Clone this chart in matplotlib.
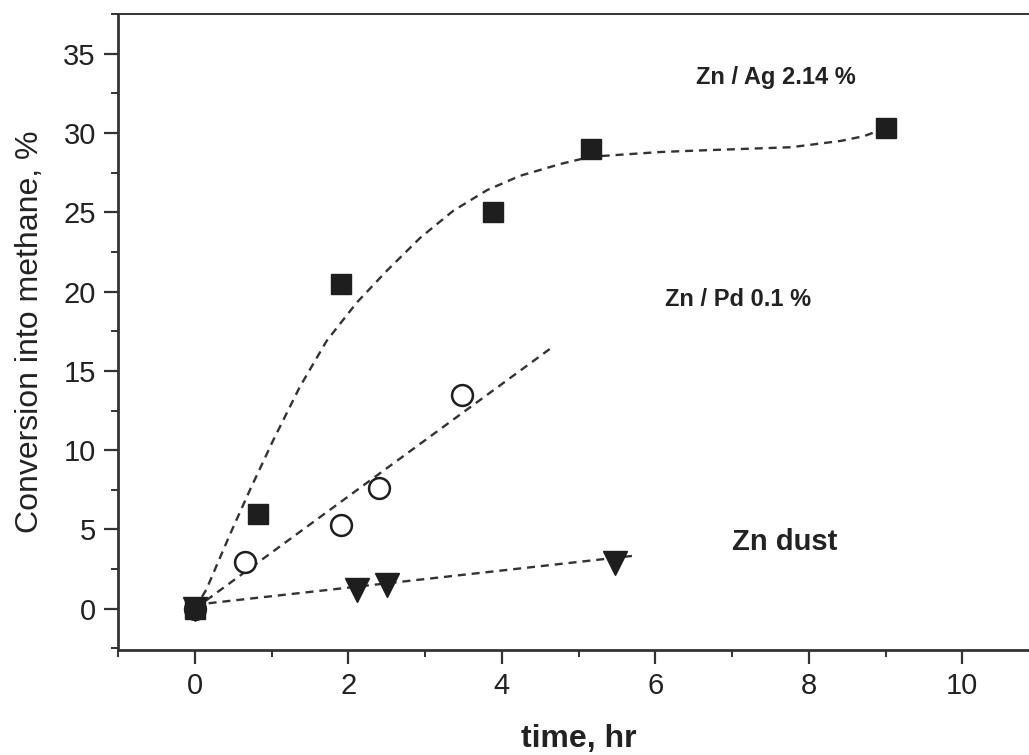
import numpy as np
import matplotlib
matplotlib.use("Agg")
import matplotlib.pyplot as plt
from matplotlib.ticker import MultipleLocator

plt.rcParams['font.family'] = ['Liberation Sans', 'DejaVu Sans']

# measured points
ag_t = [0.0, 0.83, 1.91, 3.88, 5.16, 9.0]
ag_conv = [0.0, 6.0, 20.5, 25.0, 29.0, 30.3]
pd_t = [0.0, 0.66, 1.91, 2.40, 3.48]
pd_conv = [0.0, 2.95, 5.3, 7.6, 13.45]
zn_t = [0.0, 2.11, 2.50, 5.48]
zn_conv = [0.0, 1.17, 1.48, 2.9]

# guide curves
ag_fit_t = [0.0, 0.15, 0.46, 0.72, 1.02, 1.37, 1.72, 2.11, 2.5, 2.94, 3.37,
            3.81, 4.24, 4.77, 5.16, 6.07, 6.6, 7.77, 8.42, 8.72, 9.0]
ag_fit_conv = [0.0, 1.2, 4.7, 7.5, 10.6, 14.0, 16.9, 19.3, 21.3, 23.4, 25.1,
               26.4, 27.3, 28.05, 28.5, 28.8, 28.9, 29.1, 29.5, 29.8, 30.3]
pd_fit_t = [0.0, 4.66]
pd_fit_conv = [0.0, 16.5]
zn_fit_t = [0.0, 5.77]
zn_fit_conv = [0.25, 3.37]

labels = ["Zn / Ag 2.14 %", "Zn / Pd 0.1 %", "Zn dust"]
label_pos = [(7.57, 33.5), (7.08, 19.5), (7.68, 4.2)]
label_size = [17, 17, 21]

ink = '#1e1e1e'
line_kw = dict(color='#333333', lw=1.7, ls=(0, (3.4, 2.5)), zorder=2)

fig = plt.figure(figsize=(10.29, 7.55), dpi=100)
ax = fig.add_axes([118 / 1029, 105 / 755, 921 / 1029, 636 / 755])

ax.plot(ag_fit_t, ag_fit_conv, **line_kw)
ax.plot(pd_fit_t, pd_fit_conv, **line_kw)
ax.plot(zn_fit_t, zn_fit_conv, **line_kw)

ax.plot(pd_t, pd_conv, 'o', ms=15, mfc='white', mec=ink, mew=1.8, zorder=3)
ax.plot(ag_t, ag_conv, 's', ms=14, color=ink, mec=ink, zorder=4)
ax.plot(zn_t, zn_conv, 'v', ms=17, color=ink, mec=ink, zorder=5)

for txt, (x, y), fs in zip(labels, label_pos, label_size):
    ax.text(x, y, txt, ha='center', va='center', fontsize=fs,
            fontweight='bold', color='#222222')

ax.set_xlim(-1, 11)
ax.set_ylim(-2.6, 37.5)
ax.xaxis.set_major_locator(MultipleLocator(2))
ax.xaxis.set_minor_locator(MultipleLocator(1))
ax.yaxis.set_major_locator(MultipleLocator(5))
ax.yaxis.set_minor_locator(MultipleLocator(2.5))
ax.set_yticks(np.arange(0, 36, 5))

for s in ax.spines.values():
    s.set_linewidth(2.0)
    s.set_color('#333333')
ax.spines['top'].set_linewidth(1.4)

ax.tick_params(which='major', direction='out', length=10, width=1.6,
               labelsize=21, colors='#333333', labelcolor='#222222', pad=6)
ax.tick_params(which='minor', direction='out', length=5, width=1.4,
               colors='#333333')
ax.tick_params(top=False, right=False, which='both')

ax.set_xlabel("time, hr", fontsize=23, fontweight='bold', color='#222222',
              labelpad=17)
ax.set_ylabel("Conversion into methane, %", fontsize=23, color='#222222',
              labelpad=13)

fig.savefig("out.png", dpi=100)
